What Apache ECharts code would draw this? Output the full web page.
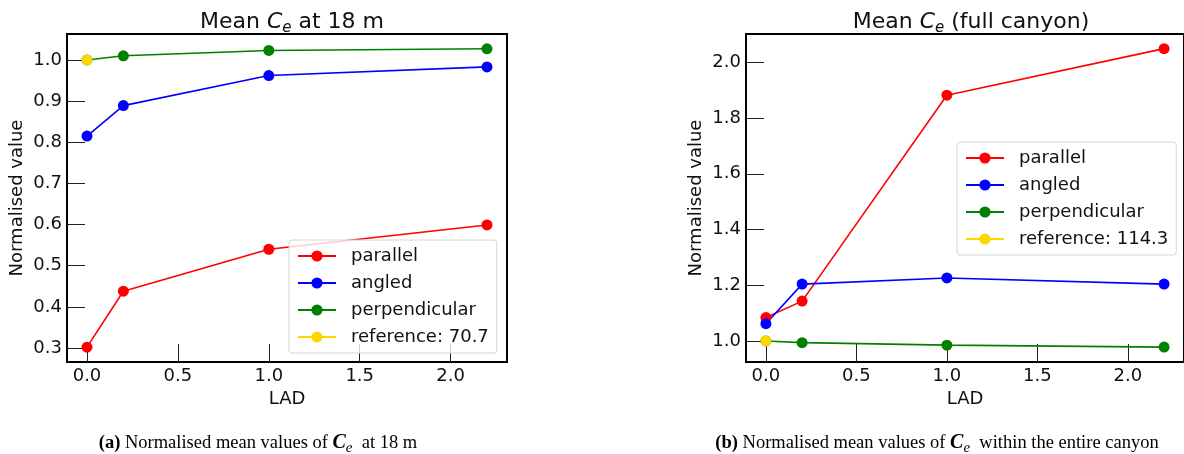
<!DOCTYPE html>
<html>
<head>
<meta charset="utf-8">
<script src="https://cdn.jsdelivr.net/npm/echarts@6/dist/echarts.min.js"></script>
<style>
  html, body { margin: 0; padding: 0; background: #fff; }
  #chart { width: 1184px; height: 454px; }
</style>
</head>
<body>
<div id="chart"></div>
<script>
// LAD values (x axis)
const lad = [0.0, 0.2, 1.0, 2.2];

// (a) mean Ce at 18 m, normalised
const heightParallel = [0.302, 0.438, 0.540, 0.599];
const heightAngled = [0.815, 0.889, 0.962, 0.983];
const heightPerpendicular = [1.000, 1.010, 1.023, 1.027];
const heightReference = [1.0];

// (b) mean Ce over the full canyon, normalised
const canyonParallel = [1.084, 1.143, 1.882, 2.049];
const canyonAngled = [1.062, 1.204, 1.226, 1.204];
const canyonPerpendicular = [1.000, 0.994, 0.985, 0.978];
const canyonReference = [1.0];

const xTicks = [0.0, 0.5, 1.0, 1.5, 2.0];
const yTicksA = [0.3, 0.4, 0.5, 0.6, 0.7, 0.8, 0.9, 1.0];
const yTicksB = [1.0, 1.2, 1.4, 1.6, 1.8, 2.0];

const refLabelA = 'reference: 70.7';
const refLabelB = 'reference: 114.3';

const FONT = 'DejaVu Sans';
const SERIF = 'Liberation Serif';

const pairs = ys => ys.map((v, i) => [lad[i], v]);

const chart = echarts.init(document.getElementById('chart'));

function xAxisFor(gridIndex) {
    return {
        type: 'value',
        gridIndex: gridIndex,
        min: -0.11,
        max: 2.31,
        name: 'LAD',
        nameLocation: 'middle',
        nameGap: 26,
        nameTextStyle: { fontFamily: FONT, fontSize: 18, color: '#111' },
        axisLine: { show: false, onZero: false },
        splitLine: { show: false },
        axisTick: {
            inside: true, length: 18, customValues: xTicks,
            lineStyle: { color: '#222', width: 1 }
        },
        axisLabel: {
            customValues: xTicks, margin: 5,
            fontFamily: FONT, fontSize: 18, color: '#111',
            formatter: v => v.toFixed(1)
        }
    };
}

function yAxisFor(gridIndex, min, max, ticks) {
    return {
        type: 'value',
        gridIndex: gridIndex,
        min: min,
        max: max,
        name: 'Normalised value',
        nameLocation: 'middle',
        nameRotate: 90,
        nameGap: 41,
        nameTextStyle: { fontFamily: FONT, fontSize: 18, color: '#111' },
        axisLine: { show: false, onZero: false },
        splitLine: { show: false },
        axisTick: {
            inside: true, length: 18, customValues: ticks,
            lineStyle: { color: '#222', width: 1 }
        },
        axisLabel: {
            customValues: ticks, margin: 5,
            fontFamily: FONT, fontSize: 18, color: '#111',
            formatter: v => v.toFixed(1)
        }
    };
}

function lineSeries(name, color, data, idx) {
    return {
        name: name,
        type: 'line',
        xAxisIndex: idx,
        yAxisIndex: idx,
        data: pairs(data),
        symbol: 'circle',
        symbolSize: 11,
        showSymbol: true,
        color: color,
        lineStyle: { color: color, width: 1.6 },
        itemStyle: { color: color },
        emphasis: { disabled: true },
        animation: false
    };
}

function legendFor(left, top, refLabel) {
    return {
        left: left,
        top: top,
        orient: 'vertical',
        data: ['parallel', 'angled', 'perpendicular', refLabel],
        itemWidth: 38,
        itemHeight: 14,
        itemGap: 7,
        padding: [6, 8, 6, 8],
        backgroundColor: 'rgba(255,255,255,0.8)',
        borderColor: '#d6d6d6',
        borderWidth: 1,
        borderRadius: 3,
        textStyle: {
            fontFamily: FONT, fontSize: 18, color: '#111',
            lineHeight: 20, padding: [0, 0, 0, 10]
        },
        selectedMode: false
    };
}

const titleRich = {
    n: { fontFamily: FONT, fontSize: 22, fontWeight: 'normal', color: '#111', lineHeight: 26 },
    i: { fontFamily: FONT, fontSize: 22, fontWeight: 'normal', fontStyle: 'italic', color: '#111', lineHeight: 26 },
    s: { fontFamily: FONT, fontSize: 15, fontWeight: 'normal', fontStyle: 'italic', color: '#111', lineHeight: 15, padding: [13, 0, 0, 0] }
};

const capRich = {
    n: { fontFamily: SERIF, fontSize: 18.5, fontWeight: 'normal', color: '#000', lineHeight: 22 },
    b: { fontFamily: SERIF, fontSize: 18.5, fontWeight: 'bold', color: '#000', lineHeight: 22 },
    i: { fontFamily: SERIF, fontSize: 20, fontStyle: 'italic', fontWeight: 'bold', color: '#000', lineHeight: 22 },
    s: { fontFamily: SERIF, fontSize: 15, fontStyle: 'italic', fontWeight: 'normal', color: '#000', lineHeight: 14, padding: [10, 0, 0, 0] }
};

const option = {
    backgroundColor: '#fff',
    animation: false,
    title: [
        {
            text: '{n|Mean }{i|C}{s|e}{n| at 18 m}',
            left: 287, top: 4, textAlign: 'center',
            textStyle: { fontWeight: 'normal', rich: titleRich }
        },
        {
            text: '{n|Mean }{i|C}{s|e}{n| (full canyon)}',
            left: 966, top: 4, textAlign: 'center',
            textStyle: { fontWeight: 'normal', rich: titleRich }
        },
        {
            text: '{b|(a)}{n| Normalised mean values of }{i|C}{s|e}{n|  at 18 m}',
            left: 253, top: 427, textAlign: 'center',
            textStyle: { fontWeight: 'normal', rich: capRich }
        },
        {
            text: '{b|(b)}{n| Normalised mean values of }{i|C}{s|e}{n|  within the entire canyon}',
            left: 932, top: 427, textAlign: 'center',
            textStyle: { fontWeight: 'normal', rich: capRich }
        }
    ],
    legend: [
        legendFor(289, 240, refLabelA),
        legendFor(957, 142, refLabelB)
    ],
    grid: [
        { left: 67, top: 34, width: 440, height: 328, show: true, borderColor: '#000', borderWidth: 2, backgroundColor: 'transparent' },
        { left: 746, top: 34, width: 440, height: 328, show: true, borderColor: '#000', borderWidth: 2, backgroundColor: 'transparent' }
    ],
    xAxis: [xAxisFor(0), xAxisFor(1)],
    yAxis: [
        yAxisFor(0, 0.266, 1.063, yTicksA),
        yAxisFor(1, 0.9245, 2.1015, yTicksB)
    ],
    series: [
        lineSeries('parallel', '#ff0000', heightParallel, 0),
        lineSeries('angled', '#0000ff', heightAngled, 0),
        lineSeries('perpendicular', '#008000', heightPerpendicular, 0),
        lineSeries(refLabelA, '#ffd700', heightReference, 0),
        lineSeries('parallel', '#ff0000', canyonParallel, 1),
        lineSeries('angled', '#0000ff', canyonAngled, 1),
        lineSeries('perpendicular', '#008000', canyonPerpendicular, 1),
        lineSeries(refLabelB, '#ffd700', canyonReference, 1)
    ]
};

chart.setOption(option);
</script>
</body>
</html>
